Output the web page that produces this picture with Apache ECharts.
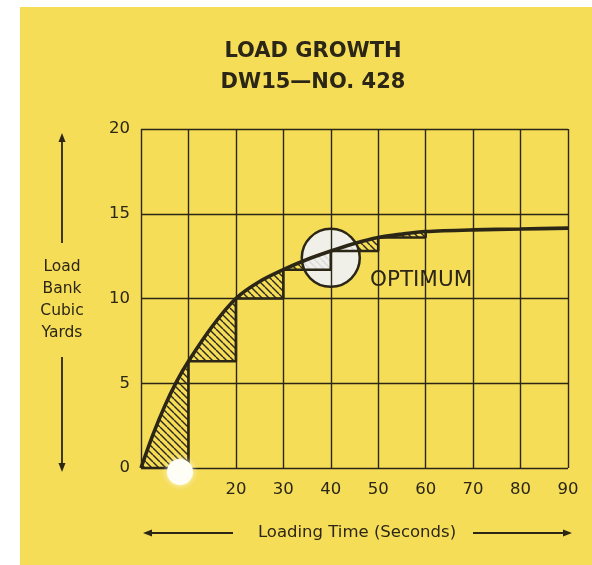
<!DOCTYPE html>
<html>
<head>
<meta charset="utf-8">
<script src="https://cdn.jsdelivr.net/npm/echarts@6/dist/echarts.min.js"></script>
<style>
  body { margin: 0; background: #fff; }
  #wrap { position: relative; width: 592px; height: 565px; background: #fff; }
  #chart { position: absolute; left: 20px; top: 7px; width: 572px; height: 558px; }
</style>
</head>
<body>
<div id="wrap"><div id="chart"></div></div>
<script>
// curve (seconds, cubic yards)
const curveX = [0, 2.5, 5, 7.5, 10, 15, 20, 25, 30, 35, 40, 45, 50, 55, 60, 70, 80, 90];
const curveY = [0, 1.95, 3.65, 5.1, 6.3, 8.35, 10, 11.0, 11.7, 12.3, 12.8, 13.25, 13.6, 13.8, 13.95, 14.05, 14.1, 14.15];

// loading steps every 10 seconds
const stepX = [0, 10, 20, 30, 40, 50, 60];
const stepY = [0, 6.3, 10, 11.7, 12.8, 13.6, 13.95];

// optimum marker
const optimum = [40, 12.4];

const xTicks = [20, 30, 40, 50, 60, 70, 80, 90];

const ink = "#2b2616";
const paper = "#f5dd58";

// hatch pattern "\\\\"
function hatch(color) {
  const s = 7;
  const c = document.createElement("canvas");
  c.width = s; c.height = s;
  const ctx = c.getContext("2d");
  ctx.strokeStyle = color;
  ctx.lineWidth = 1.4;
  [-s, 0, s].forEach((k) => {
    ctx.beginPath();
    ctx.moveTo(k, 0);
    ctx.lineTo(k + s, s);
    ctx.stroke();
  });
  return { image: c, repeat: "repeat" };
}

const curve = curveX.map((x, i) => [x, curveY[i]]);
const curveToStepEnd = curve.filter((p) => p[0] <= stepX[stepX.length - 1]);
const steps = stepX.map((x, i) => [x, stepY[i]]);

function arrow(x1, y1, x2, y2) {
  // shaft from (x1,y1) to (x2,y2), head at (x2,y2)
  const dx = x2 - x1, dy = y2 - y1;
  const len = Math.hypot(dx, dy);
  const ux = dx / len, uy = dy / len;
  const hl = 9, hw = 3.5;
  return [
    { type: "line", shape: { x1, y1, x2: x2 - ux * hl * 0.5, y2: y2 - uy * hl * 0.5 },
      style: { stroke: ink, lineWidth: 1.8 } },
    { type: "polygon",
      shape: { points: [[x2, y2],
        [x2 - ux * hl - uy * hw, y2 - uy * hl + ux * hw],
        [x2 - ux * hl + uy * hw, y2 - uy * hl - ux * hw]] },
      style: { fill: ink } },
  ];
}

const font = "'DejaVu Sans', sans-serif";

const chart = echarts.init(document.getElementById("chart"));
chart.setOption({
  backgroundColor: paper,
  animation: false,
  grid: { left: 121, right: 24, top: 122, bottom: 97 },
  xAxis: {
    type: "value", min: 0, max: 90, interval: 10, z: 10,
    axisLine: { show: false },
    axisTick: { show: false },
    splitLine: { show: true, lineStyle: { color: ink, width: 1.4 } },
    axisLabel: {
      margin: 13, color: ink, fontSize: 16.5, fontFamily: font,
      formatter: (v) => (xTicks.includes(v) ? String(v) : ""),
    },
  },
  yAxis: {
    type: "value", min: 0, max: 20, interval: 5, z: 10,
    axisLine: { show: false },
    axisTick: { show: false },
    splitLine: { show: true, lineStyle: { color: ink, width: 1.4 } },
    axisLabel: { margin: 11, color: ink, fontSize: 16.5, fontFamily: font },
  },
  series: [
    {
      // hatched area under the curve
      type: "line", data: curveToStepEnd, smooth: 0.3, symbol: "none", z: 2,
      lineStyle: { width: 0 },
      areaStyle: { color: hatch(ink), opacity: 1 },
    },
    {
      // plain paper under the steps
      type: "line", data: steps, step: "end", symbol: "none", z: 3,
      lineStyle: { width: 0 },
      areaStyle: { color: paper, opacity: 1 },
    },
    {
      type: "scatter", data: [optimum], symbolSize: 58, z: 4,
      itemStyle: { color: "rgba(240,243,252,0.88)", opacity: 1, borderColor: ink, borderWidth: 2.5 },
    },
    {
      type: "line", data: steps, step: "end", symbol: "none", z: 5,
      lineStyle: { color: ink, width: 2.6 },
    },
    {
      type: "line", data: curve, smooth: 0.3, symbol: "none", z: 6,
      lineStyle: { color: ink, width: 3.6 },
    },
  ],
  graphic: [
    { type: "text", x: 293, y: 45, z: 20,
      style: { text: "LOAD GROWTH", fill: ink, font: "bold 21px " + font, align: "center", verticalAlign: "middle" } },
    { type: "text", x: 293, y: 76, z: 20,
      style: { text: "DW15—NO. 428", fill: ink, font: "bold 21px " + font, align: "center", verticalAlign: "middle" } },
    { type: "text", x: 42, y: 293, z: 20,
      style: { text: "Load\nBank\nCubic\nYards", fill: ink, font: "15.5px " + font, lineHeight: 21.7,
        align: "center", verticalAlign: "middle" } },
    { type: "text", x: 337, y: 526, z: 20,
      style: { text: "Loading Time (Seconds)", fill: ink, font: "16.5px " + font,
        align: "center", verticalAlign: "middle" } },
    { type: "text", x: 350, y: 273, z: 20,
      style: { text: "OPTIMUM", fill: ink, font: "21.5px " + font, verticalAlign: "middle" } },
    { type: "group", z: 20, children: [
      ...arrow(42, 236, 42, 126),
      ...arrow(42, 350, 42, 465),
      ...arrow(213, 526, 123, 526),
      ...arrow(453, 526, 552, 526),
    ] },
    // white paper blemish at the foot of the 10 s line
    { type: "circle", x: 160, y: 465, z: 15,
      shape: { r: 13 },
      style: { fill: "#fffef6", shadowBlur: 6, shadowColor: "rgba(255,255,245,0.8)" } },
  ],
});
</script>
</body>
</html>
